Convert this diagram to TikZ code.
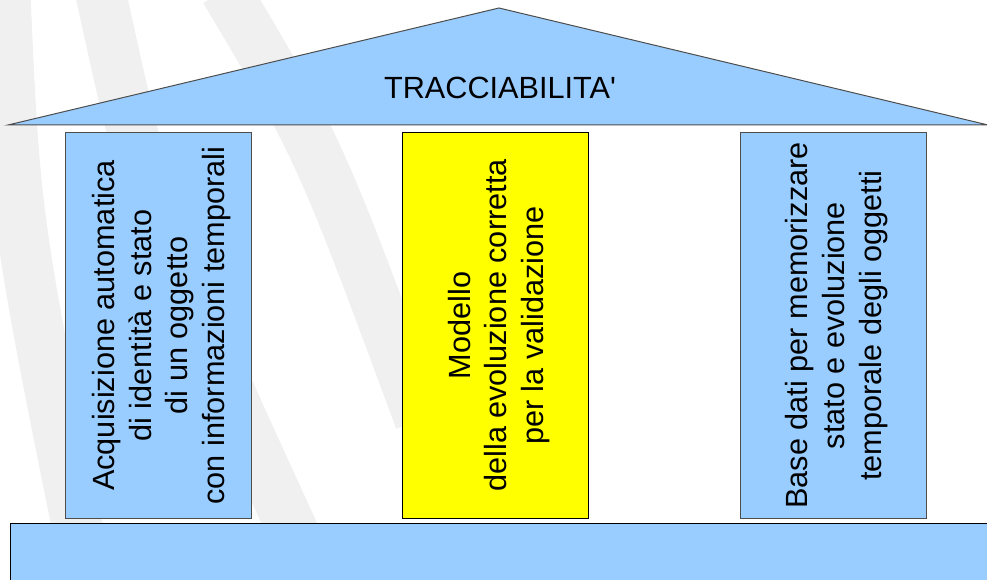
\documentclass[tikz,border=0pt]{standalone}
\usepackage{fontspec}
\setmainfont{Liberation Sans}
\definecolor{roofblue}{HTML}{99CCFF}
\definecolor{pillaryellow}{HTML}{FFFF00}
\definecolor{edgegray}{HTML}{4D4D4D}
\definecolor{markgray}{HTML}{F0F0F0}
% a little room above the first line
\newcommand{\toppad}{\rule{0pt}{22pt}}
\tikzset{
  pillar/.style={draw=edgegray, line width=0.75pt, rotate=90, align=center,
    minimum width=288.75pt, minimum height=139.5pt, inner sep=0pt,
    font=\fontsize{23}{27.5}\selectfont},
  watermark/.style={markgray, line width=38pt}
}
\begin{document}
\begin{tikzpicture}[x=0.75pt, y=-0.75pt]
\useasboundingbox (0,0) rectangle (987,580);
% faint background marks
\draw[watermark] (5,-10) .. controls (15,220) .. (90,590);
\draw[watermark] (100,-10) .. controls (150,220) .. (320,590);
\draw[watermark] (225,-10) .. controls (320,150) .. (420,420);

% roof
\coordinate (roofL) at (8,125);
\coordinate (roofR) at (988,125);
\coordinate (roofT) at (499,8);
\draw[fill=roofblue, draw=edgegray, line width=0.75pt] (roofL) -- (roofT) -- (roofR) -- cycle;
\node[font=\fontsize{23}{27}\selectfont] (roof) at (500,88) {TRACCIABILITA\textquotesingle};

% pillars
\node[pillar, fill=roofblue] (acq) at (158,325.5)
  {\toppad Acquisizione automatica\\di identità e stato\\di un oggetto\\con informazioni temporali};
\node[pillar, fill=pillaryellow, draw=black] (mod) at (495.5,325.5)
  {\toppad Modello\\della evoluzione corretta\\per la validazione};
\node[pillar, fill=roofblue] (base) at (833,325.5)
  {\toppad Base dati per memorizzare\\stato e evoluzione\\temporale degli oggetti};

% base
\draw[fill=roofblue, draw=black, line width=0.75pt] (10,523) rectangle (995,590);
\end{tikzpicture}
\end{document}
